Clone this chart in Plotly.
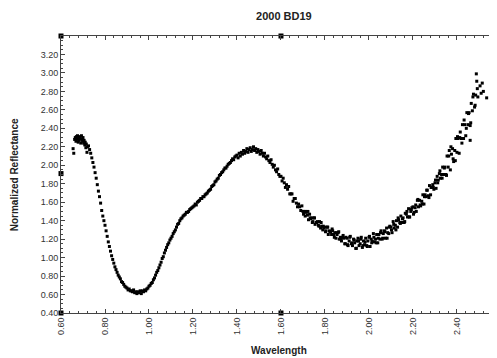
import plotly.graph_objects as go

# ---- data (wavelength in micron, normalized reflectance) ----
wl_a = [0.655, 0.658, 0.662, 0.665, 0.668, 0.670, 0.673, 0.675, 0.678, 0.680, 0.683, 0.685,
        0.688, 0.690, 0.693, 0.695, 0.698, 0.700, 0.703, 0.705, 0.708, 0.710, 0.713, 0.715,
        0.718, 0.720]
rf_a = [2.18, 2.13, 2.28, 2.30, 2.26, 2.31, 2.28, 2.32, 2.25, 2.30, 2.27, 2.31,
        2.29, 2.24, 2.32, 2.28, 2.26, 2.30, 2.24, 2.27, 2.22, 2.25, 2.19, 2.23,
        2.14, 2.20]

wl_b = [0.725, 0.730, 0.735, 0.740, 0.745, 0.750, 0.755, 0.760, 0.765, 0.770, 0.775, 0.780,
        0.785, 0.790, 0.795, 0.800, 0.805, 0.810, 0.815, 0.820, 0.825, 0.830, 0.835, 0.840,
        0.845, 0.850, 0.855, 0.860, 0.865, 0.870, 0.875, 0.880, 0.885, 0.890, 0.895, 0.900,
        0.905, 0.910, 0.915, 0.920, 0.925, 0.930, 0.935, 0.940, 0.945, 0.950, 0.955, 0.960,
        0.965, 0.970, 0.975, 0.980, 0.985, 0.990, 0.995, 1.000]
rf_b = [2.21, 2.17, 2.13, 2.08, 2.03, 1.98, 1.92, 1.86, 1.79, 1.72, 1.66, 1.59,
        1.51, 1.45, 1.40, 1.35, 1.29, 1.23, 1.17, 1.12, 1.07, 1.02, 0.98, 0.94,
        0.90, 0.87, 0.84, 0.81, 0.79, 0.77, 0.74, 0.73, 0.71, 0.69, 0.68, 0.67,
        0.65, 0.66, 0.64, 0.64, 0.63, 0.65, 0.62, 0.63, 0.61, 0.63, 0.62, 0.64,
        0.61, 0.64, 0.63, 0.65, 0.64, 0.66, 0.67, 0.69]

wl_c = [1.005, 1.010, 1.015, 1.020, 1.025, 1.030, 1.035, 1.040, 1.045, 1.050, 1.055, 1.060,
        1.065, 1.070, 1.075, 1.080, 1.085, 1.090, 1.095, 1.100, 1.105, 1.110, 1.115, 1.120,
        1.125, 1.130, 1.135, 1.140, 1.145, 1.150, 1.155, 1.160, 1.165, 1.170, 1.175, 1.180,
        1.185, 1.190, 1.195, 1.200, 1.205, 1.210, 1.215, 1.220, 1.225, 1.230, 1.235, 1.240,
        1.245, 1.250, 1.255, 1.260, 1.265, 1.270, 1.275, 1.280, 1.285, 1.290, 1.295, 1.300,
        1.305, 1.310, 1.315, 1.320, 1.325, 1.330, 1.335, 1.340, 1.345, 1.350, 1.355, 1.360,
        1.365, 1.370, 1.375, 1.380, 1.385, 1.390, 1.395]
rf_c = [0.70, 0.72, 0.73, 0.76, 0.78, 0.81, 0.84, 0.86, 0.89, 0.92, 0.95, 0.99,
        1.01, 1.05, 1.08, 1.11, 1.14, 1.16, 1.19, 1.21, 1.23, 1.26, 1.28, 1.30,
        1.33, 1.36, 1.37, 1.40, 1.42, 1.43, 1.45, 1.46, 1.47, 1.49, 1.49, 1.50,
        1.52, 1.53, 1.54, 1.55, 1.56, 1.58, 1.57, 1.60, 1.61, 1.62, 1.64, 1.64,
        1.66, 1.66, 1.68, 1.69, 1.70, 1.72, 1.73, 1.74, 1.77, 1.78, 1.79, 1.82,
        1.83, 1.85, 1.86, 1.89, 1.90, 1.92, 1.93, 1.95, 1.97, 1.97, 1.99, 2.01,
        2.02, 2.03, 2.05, 2.07, 2.06, 2.09, 2.10]

wl_d = [1.400, 1.405, 1.410, 1.415, 1.420, 1.425, 1.430, 1.435, 1.440, 1.445, 1.450, 1.455,
        1.460, 1.465, 1.470, 1.475, 1.480, 1.485, 1.490, 1.495, 1.500, 1.505, 1.510, 1.515,
        1.520, 1.525, 1.530, 1.535, 1.540, 1.545, 1.550, 1.555, 1.560, 1.565, 1.570, 1.575,
        1.580, 1.585, 1.590, 1.595]
rf_d = [2.11, 2.08, 2.13, 2.10, 2.14, 2.12, 2.16, 2.13, 2.15, 2.18, 2.14, 2.17,
        2.19, 2.15, 2.17, 2.20, 2.16, 2.18, 2.14, 2.17, 2.15, 2.12, 2.16, 2.13,
        2.10, 2.13, 2.09, 2.07, 2.10, 2.05, 2.03, 2.06, 2.01, 1.98, 2.00, 1.95,
        1.93, 1.96, 1.90, 1.88]

wl_e = [1.600, 1.605, 1.610, 1.615, 1.620, 1.625, 1.630, 1.635, 1.640, 1.645, 1.650, 1.655,
        1.660, 1.665, 1.670, 1.675, 1.680, 1.685, 1.690, 1.695, 1.700, 1.705, 1.710, 1.715,
        1.720, 1.725, 1.730, 1.735, 1.740, 1.745, 1.750, 1.755, 1.760, 1.765, 1.770, 1.775,
        1.780, 1.785, 1.790, 1.795, 1.800, 1.805, 1.810, 1.815, 1.820, 1.825, 1.830, 1.835,
        1.840, 1.845, 1.850, 1.855, 1.860, 1.865, 1.870, 1.875, 1.880, 1.885, 1.890, 1.895,
        1.7025, 1.7125, 1.7225, 1.7325, 1.7425, 1.7525, 1.7625, 1.7725, 1.7825, 1.7925,
        1.8025, 1.8125, 1.8225, 1.8325, 1.8425, 1.8525, 1.8625, 1.8725, 1.8825, 1.8925]
rf_e = [1.88, 1.83, 1.86, 1.81, 1.76, 1.79, 1.74, 1.77, 1.69, 1.69, 1.69, 1.61,
        1.64, 1.64, 1.59, 1.55, 1.58, 1.55, 1.51, 1.56, 1.50, 1.50, 1.45, 1.49,
        1.46, 1.41, 1.47, 1.42, 1.43, 1.39, 1.43, 1.36, 1.38, 1.39, 1.35, 1.39,
        1.32, 1.34, 1.30, 1.32, 1.33, 1.29, 1.33, 1.25, 1.29, 1.28, 1.25, 1.29,
        1.25, 1.27, 1.21, 1.25, 1.27, 1.20, 1.22, 1.18, 1.22, 1.21, 1.15, 1.22,
        1.47, 1.50, 1.50, 1.43, 1.38, 1.43, 1.38, 1.34, 1.38, 1.34,
        1.28, 1.33, 1.28, 1.31, 1.22, 1.27, 1.28, 1.20, 1.24, 1.15]

wl_f = [1.900, 1.905, 1.910, 1.915, 1.920, 1.925, 1.930, 1.935, 1.940, 1.945, 1.950, 1.955,
        1.960, 1.965, 1.970, 1.975, 1.980, 1.985, 1.990, 1.995, 2.000, 2.005, 2.010, 2.015,
        2.020, 2.025, 2.030, 2.035, 2.040, 2.045, 2.050, 2.055, 2.060, 2.065, 2.070, 2.075,
        2.080, 2.085, 2.090, 2.095, 2.100, 2.105, 2.110, 2.115, 2.120, 2.125, 2.130, 2.135,
        2.140, 2.145, 2.150, 2.155, 2.160, 2.165, 2.170, 2.175, 2.180, 2.185, 2.190, 2.195,
        1.9025, 1.9125, 1.9225, 1.9325, 1.9425, 1.9525, 1.9625, 1.9725, 1.9825, 1.9925,
        2.0025, 2.0125, 2.0225, 2.0325, 2.0425, 2.0525, 2.0625, 2.0725, 2.0825, 2.0925,
        2.1025, 2.1125, 2.1225, 2.1325, 2.1425, 2.1525, 2.1625, 2.1725, 2.1825, 2.1925]
rf_f = [1.21, 1.13, 1.18, 1.23, 1.15, 1.13, 1.20, 1.16, 1.10, 1.18, 1.21, 1.13,
        1.15, 1.22, 1.11, 1.18, 1.14, 1.21, 1.13, 1.18, 1.22, 1.12, 1.20, 1.18,
        1.26, 1.17, 1.20, 1.25, 1.16, 1.25, 1.20, 1.29, 1.20, 1.26, 1.29, 1.21,
        1.32, 1.27, 1.26, 1.34, 1.33, 1.27, 1.39, 1.32, 1.35, 1.40, 1.33, 1.41,
        1.38, 1.45, 1.38, 1.43, 1.38, 1.48, 1.47, 1.44, 1.53, 1.44, 1.50, 1.54,
        1.14, 1.22, 1.16, 1.19, 1.10, 1.18, 1.20, 1.13, 1.17, 1.12,
        1.23, 1.16, 1.22, 1.16, 1.21, 1.27, 1.21, 1.28, 1.21, 1.33,
        1.30, 1.36, 1.30, 1.43, 1.37, 1.42, 1.39, 1.50, 1.44, 1.52]

wl_g = [2.200, 2.205, 2.210, 2.215, 2.220, 2.225, 2.230, 2.235, 2.240, 2.245, 2.250, 2.255,
        2.260, 2.265, 2.270, 2.275, 2.280, 2.285, 2.290, 2.295, 2.300, 2.305, 2.310, 2.315,
        2.320, 2.325, 2.330, 2.335, 2.340, 2.345, 2.350, 2.355, 2.360, 2.365, 2.370, 2.375,
        2.380, 2.385, 2.390, 2.395, 2.400, 2.405, 2.410, 2.415, 2.420, 2.425, 2.430, 2.435,
        2.440, 2.445, 2.450, 2.455, 2.460, 2.465, 2.470, 2.475, 2.480, 2.485, 2.490, 2.495,
        2.2025, 2.2125, 2.2225, 2.2325, 2.2425, 2.2525, 2.2625, 2.2725, 2.2825, 2.2925,
        2.3025, 2.3125, 2.3225, 2.3325, 2.3425, 2.3525, 2.3625, 2.3725, 2.3825, 2.3925,
        2.4025, 2.4125, 2.4225, 2.4325, 2.4425, 2.4525, 2.4625, 2.4725, 2.4825, 2.4925,
        2.460, 2.488, 2.505, 2.510, 2.515, 2.520, 2.535]
rf_g = [1.55, 1.49, 1.54, 1.50, 1.62, 1.55, 1.62, 1.56, 1.61, 1.68, 1.58, 1.68,
        1.66, 1.73, 1.67, 1.78, 1.68, 1.76, 1.79, 1.74, 1.81, 1.75, 1.88, 1.84,
        1.91, 1.86, 1.90, 1.98, 1.90, 1.98, 1.90, 2.10, 1.98, 2.16, 1.95, 2.12,
        2.18, 2.04, 2.16, 2.29, 2.14, 2.29, 2.13, 2.36, 2.29, 2.44, 2.29, 2.44,
        2.32, 2.57, 2.44, 2.57, 2.43, 2.67, 2.59, 2.77, 2.63, 2.76, 2.91, 2.74,
        1.47, 1.57, 1.63, 1.57, 1.58, 1.66, 1.73, 1.65, 1.76, 1.76,
        1.84, 1.81, 1.94, 1.86, 1.97, 1.89, 2.10, 2.20, 2.07, 2.05,
        2.31, 2.30, 2.24, 2.49, 2.40, 2.56, 2.46, 2.74, 2.65, 2.83,
        2.27, 2.99, 2.86, 2.78, 2.89, 2.80, 2.73]

# small square markers on the frame, as drawn in the reference
frame_x = [0.60, 1.60, 0.60, 0.60, 1.60]
frame_y = [3.40, 3.40, 1.91, 0.40, 0.40]

x_ticks = [0.60, 0.80, 1.00, 1.20, 1.40, 1.60, 1.80, 2.00, 2.20, 2.40]
y_ticks = [0.40, 0.60, 0.80, 1.00, 1.20, 1.40, 1.60, 1.80, 2.00, 2.20, 2.40, 2.60, 2.80, 3.00, 3.20]

wl = wl_a + wl_b + wl_c + wl_d + wl_e + wl_f + wl_g
rf = rf_a + rf_b + rf_c + rf_d + rf_e + rf_f + rf_g

FONT = "Arial, Liberation Sans, sans-serif"
AX = "#444444"

fig = go.Figure()
fig.add_trace(go.Scatter(x=wl, y=rf, mode="markers",
                         marker=dict(symbol="square", size=3.0, color="black"),
                         showlegend=False))
fig.add_trace(go.Scatter(x=frame_x, y=frame_y, mode="markers",
                         marker=dict(symbol="square", size=5.0, color="black"),
                         cliponaxis=False, showlegend=False))

# the page body adds an 8px offset, so the figure is 8px smaller and margins shifted
fig.update_layout(
    width=489, height=350,
    margin=dict(l=53, r=0, t=28, b=45),
    paper_bgcolor="white", plot_bgcolor="white",
    font=dict(family=FONT, size=9, color="#333333"),
    title=dict(text="<b>2000 BD19</b>", x=0.5642, xanchor="center", y=0.977, yanchor="middle",
               font=dict(family=FONT, size=11, color="#222222")),
)
fig.update_xaxes(
    range=[0.60, 2.582], showgrid=False, zeroline=False,
    showline=True, linecolor=AX, linewidth=1, mirror="ticks",
    ticks="inside", ticklen=4, tickcolor=AX, tickwidth=1,
    tickvals=x_ticks, ticktext=[f"{v:.2f}" for v in x_ticks], tickangle=-90,
    tickfont=dict(family=FONT, size=9, color="#333333"),
    minor=dict(dtick=0.04, tick0=0.60, ticks="inside", ticklen=2, tickcolor=AX),
)
fig.update_yaxes(
    range=[0.40, 3.40], showgrid=False, zeroline=False,
    showline=True, linecolor=AX, linewidth=1, mirror=False,
    ticks="inside", ticklen=4, tickcolor=AX, tickwidth=1,
    tickvals=y_ticks, ticktext=[f"{v:.2f}" for v in y_ticks],
    tickfont=dict(family=FONT, size=9, color="#333333"),
    minor=dict(dtick=0.05, tick0=0.40, ticks="inside", ticklen=2, tickcolor=AX),
)
fig.add_annotation(text="<b>Wavelength</b>", xref="paper", yref="paper",
                   x=0.5, y=-0.134, xanchor="center", yanchor="middle", showarrow=False,
                   font=dict(family=FONT, size=10, color="#222222"))
fig.add_annotation(text="<b>Normalized Reflectance</b>", xref="paper", yref="paper",
                   x=-0.106, y=0.5, xanchor="center", yanchor="middle", showarrow=False,
                   textangle=-90, font=dict(family=FONT, size=10, color="#222222"))

fig.write_html("out.html")
